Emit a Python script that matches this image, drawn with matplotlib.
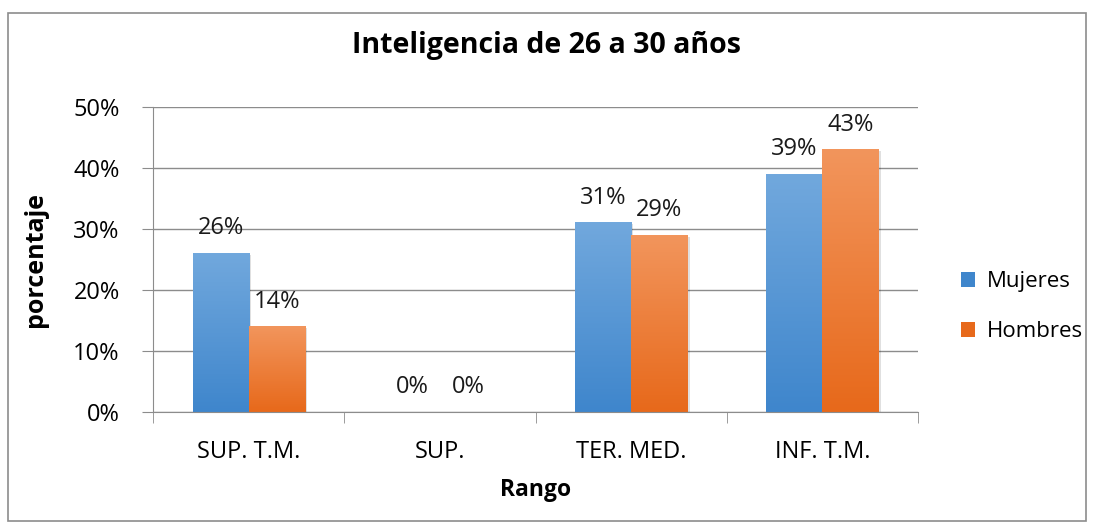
import numpy as np
import matplotlib
matplotlib.use("Agg")
import matplotlib.pyplot as plt
from matplotlib.colors import LinearSegmentedColormap

categories = ["SUP. T.M.", "SUP.", "TER. MED.", "INF. T.M."]
mujeres = [26, 0, 31, 39]
hombres = [14, 0, 29, 43]
series = ["Mujeres", "Hombres"]
yticks = [0, 10, 20, 30, 40, 50]

plt.rcParams["font.family"] = ["Open Sans", "DejaVu Sans"]

fig = plt.figure(figsize=(10.94, 5.29), dpi=100)
ax = fig.add_axes([0.1399, 0.2212, 0.6993, 0.5766])

# outer chart border
fig.patches.append(plt.Rectangle((8 / 1094, 1 - 521 / 529), 1078 / 1094, 508 / 529,
                                 transform=fig.transFigure, fill=False,
                                 edgecolor="#8c8c8c", linewidth=1.2))

x = np.arange(len(categories))
w = 0.293
grads = {
    "Mujeres": ("#3f86cc", "#71a8dd"),
    "Hombres": ("#e7691b", "#f2955c"),
}
for off, vals, name in [(-w / 2, mujeres, "Mujeres"), (w / 2, hombres, "Hombres")]:
    bars = ax.bar(x + off, vals, w, color=grads[name][0], label=name, zorder=2)
    cmap = LinearSegmentedColormap.from_list(name, grads[name])
    for b in bars:
        h = b.get_height()
        if h <= 0:
            continue
        x0 = b.get_x()
        # slight shadow
        ax.add_patch(plt.Rectangle((x0 + 0.012, -0.25), b.get_width(), h,
                                   color="#000000", alpha=0.12, zorder=1.5, lw=0))
        ax.imshow(np.linspace(0, 1, 100).reshape(-1, 1), cmap=cmap, origin="lower",
                  extent=(x0, x0 + b.get_width(), 0, h), aspect="auto", zorder=2.1)
    for xi, v in zip(x + off, vals):
        ax.text(xi, v + 4.1, f"{v}%", ha="center", va="center", fontsize=17, color="#1a1a1a")

ax.set_xlim(-0.5, len(categories) - 0.5)
ax.set_ylim(0, 50)
ax.set_yticks(yticks)
ax.set_yticklabels([f"{t}%" for t in yticks], fontsize=17)
ax.yaxis.grid(True, color="#8c8c8c", linewidth=1.0, zorder=0)
ax.set_axisbelow(True)

ax.set_xticks(x)
ax.set_xticklabels(categories, fontsize=17)
ax.tick_params(axis="x", length=0, pad=20)
ax.set_xticks(np.arange(len(categories) + 1) - 0.5, minor=True)
ax.tick_params(axis="x", which="minor", length=8, color="#8c8c8c")
ax.tick_params(axis="y", length=8, color="#8c8c8c", pad=16)

for s in ["top", "right"]:
    ax.spines[s].set_visible(False)
for s in ["left", "bottom"]:
    ax.spines[s].set_color("#8c8c8c")

ax.set_xlabel("Rango", fontsize=16.5, fontweight="bold", va="center")
ax.xaxis.set_label_coords(0.5, -0.256)
ax.set_ylabel("porcentaje", fontsize=18, fontweight="bold", va="center")
ax.yaxis.set_label_coords(-0.154, 0.5)
fig.text(0.5, 1 - 45 / 529, "Inteligencia de 26 a 30 años", ha="center", va="center",
         fontsize=20.5, fontweight="bold")

h, l = ax.get_legend_handles_labels()
fig.legend(h, l, loc="center left", bbox_to_anchor=(0.86, 0.42), frameon=False,
           fontsize=16, handlelength=0.65, handleheight=0.65, labelspacing=1.3,
           handletextpad=0.5)

fig.savefig("out.png", dpi=100)
